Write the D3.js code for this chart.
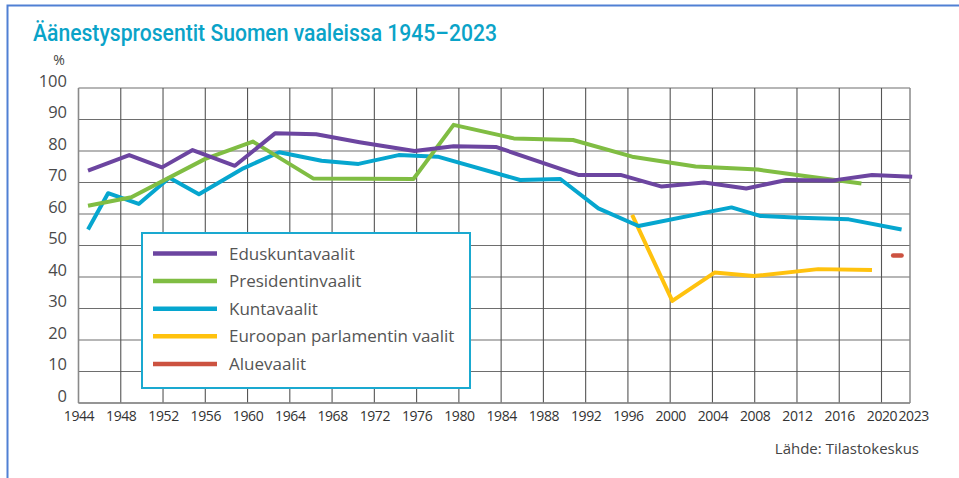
<!DOCTYPE html>
<html>
<head>
<meta charset="utf-8">
<script src="https://cdn.jsdelivr.net/npm/d3@7"></script>
<style>
  html, body { margin: 0; padding: 0; background: #fff; }
  svg { display: block; font-family: "Open Sans", "Noto Sans", sans-serif; }
</style>
</head>
<body>
<svg id="chart" width="959" height="478"></svg>
<script>
// ---- Data (years as positioned in the original chart, turnout %) ----
const titleText = "Äänestysprosentit Suomen vaaleissa 1945–2023";
const sourceText = "Lähde: Tilastokeskus";
const yUnit = "%";

const xTickYears = [1944, 1948, 1952, 1956, 1960, 1964, 1968, 1972, 1976, 1980, 1984, 1988, 1992, 1996, 2000, 2004, 2008, 2012, 2016, 2020, 2023];
const yTickValues = [0, 10, 20, 30, 40, 50, 60, 70, 80, 90, 100];

const seriesNames = ["Eduskuntavaalit", "Presidentinvaalit", "Kuntavaalit", "Euroopan parlamentin vaalit", "Aluevaalit"];
const seriesColors = ["#6c45a0", "#80bd43", "#06a6cf", "#ffc20e", "#cc5240"];

const eduskuntaYears  = [1944.9, 1948.8, 1951.9, 1954.8, 1958.8, 1962.6, 1966.5, 1970.6, 1975.8, 1979.5, 1983.5, 1991.3, 1995.3, 1999.2, 2003.2, 2007.2, 2011.0, 2015.3, 2019.1, 2022.9];
const eduskuntaValues = [73.8, 78.7, 74.8, 80.3, 75.3, 85.6, 85.3, 82.8, 80.0, 81.5, 81.3, 72.4, 72.4, 68.7, 70.0, 68.1, 70.8, 70.6, 72.4, 71.8];

const presidenttiYears  = [1944.9, 1949.0, 1956.0, 1960.5, 1966.2, 1975.7, 1979.5, 1985.2, 1990.8, 1996.4, 2002.4, 2008.3, 2012.2, 2018.1];
const presidenttiValues = [62.6, 65.3, 77.5, 83.0, 71.3, 71.1, 88.3, 84.0, 83.5, 78.2, 75.1, 74.1, 72.3, 69.7];

const kuntaYears  = [1944.9, 1946.8, 1949.7, 1952.6, 1955.4, 1959.6, 1963.0, 1967.0, 1970.5, 1974.3, 1978.0, 1985.8, 1989.6, 1993.2, 1997.0, 2005.8, 2008.5, 2012.3, 2016.9, 2021.9];
const kuntaValues = [55.1, 66.6, 63.2, 71.5, 66.3, 74.5, 79.6, 76.9, 75.9, 78.7, 78.2, 70.8, 71.1, 61.8, 56.2, 62.1, 59.4, 58.8, 58.3, 55.1];

const euYears  = [1996.4, 2000.2, 2004.2, 2007.9, 2014.0, 2019.1];
const euValues = [59.7, 32.4, 41.4, 40.3, 42.5, 42.2];

const alueYears  = [2021.1, 2021.9];
const alueValues = [46.8, 46.8];

// ---- Layout ----
const svg = d3.select("#chart");
const W = 959, H = 478;
const plotLeft = 78.5, plotRight = 910, plotTop = 88, plotBottom = 403;

const x = d3.scaleLinear().domain([1944, 2023]).range([plotLeft, 913.2]);
const y = d3.scaleLinear().domain([0, 100]).range([plotBottom, plotTop]);

// outer frame (extends past right/bottom edge)
svg.append("rect")
  .attr("x", 7.5).attr("y", 5.5)
  .attr("width", W + 20).attr("height", H + 20)
  .attr("fill", "none").attr("stroke", "#5080d4").attr("stroke-width", 2);

// title
svg.append("text")
  .attr("x", 33).attr("y", 41)
  .attr("fill", "#0aa3c8")
  .attr("font-family", "Roboto, 'Open Sans', sans-serif")
  .attr("font-size", 23.5)
  .attr("font-weight", 500)
  .attr("textLength", 464)
  .attr("lengthAdjust", "spacingAndGlyphs")
  .text(titleText);

// gridlines
const grid = svg.append("g");
grid.selectAll("line.h").data(yTickValues).join("line")
  .attr("x1", plotLeft).attr("x2", plotRight)
  .attr("y1", d => y(d)).attr("y2", d => y(d))
  .attr("stroke", "#6e6e6e").attr("stroke-width", 1.2);
grid.selectAll("line.v").data(xTickYears.filter(d => d !== 2023)).join("line")
  .attr("x1", d => x(d)).attr("x2", d => x(d))
  .attr("y1", plotTop).attr("y2", plotBottom)
  .attr("stroke", "#555").attr("stroke-width", 1.1);
// frame edges
grid.append("line")
  .attr("x1", plotRight).attr("x2", plotRight)
  .attr("y1", plotTop).attr("y2", plotBottom)
  .attr("stroke", "#8a8a8a").attr("stroke-width", 1.5);
grid.append("line")
  .attr("x1", plotLeft).attr("x2", plotRight)
  .attr("y1", plotBottom).attr("y2", plotBottom)
  .attr("stroke", "#8a8a8a").attr("stroke-width", 1.5);
grid.append("line")
  .attr("x1", plotLeft).attr("x2", plotLeft)
  .attr("y1", plotTop).attr("y2", plotBottom)
  .attr("stroke", "#8a8a8a").attr("stroke-width", 1.5);

// y axis labels (via d3 axis, offset above gridlines)
const yAxis = d3.axisLeft(y).tickValues(yTickValues).tickSize(0).tickPadding(0);
const yg = svg.append("g").attr("transform", `translate(67, -7)`).call(yAxis);
yg.select(".domain").remove();
yg.selectAll("text").attr("font-size", 16.5).attr("fill", "#4a4a4a")
  .attr("font-family", "'Open Sans', 'Noto Sans', sans-serif");

svg.append("text").attr("x", 59).attr("y", 65).attr("text-anchor", "middle")
  .attr("font-size", 14).attr("fill", "#444").text(yUnit);

// x axis labels
const xAxis = d3.axisBottom(x).tickValues(xTickYears).tickFormat(d3.format("d")).tickSize(0).tickPadding(0);
const xg = svg.append("g").attr("transform", `translate(0, 411)`).call(xAxis);
xg.select(".domain").remove();
xg.selectAll("text").attr("font-size", 14).attr("fill", "#333")
  .attr("letter-spacing", -0.4)
  .attr("font-family", "'Open Sans', 'Noto Sans', sans-serif");

// lines
const line = d3.line().x(d => x(d[0])).y(d => y(d[1]));
const series = [
  [eduskuntaYears, eduskuntaValues],
  [presidenttiYears, presidenttiValues],
  [kuntaYears, kuntaValues],
  [euYears, euValues],
  [alueYears, alueValues]
];
// draw order: yellow, red, cyan, green, purple (purple on top)
const order = [3, 4, 2, 1, 0];
order.forEach(i => {
  const pts = series[i][0].map((yr, k) => [yr, series[i][1][k]]);
  svg.append("path")
    .attr("d", line(pts))
    .attr("fill", "none")
    .attr("stroke", seriesColors[i])
    .attr("stroke-width", i === 4 ? 4.5 : 4)
    .attr("stroke-linejoin", "round")
    .attr("stroke-linecap", i === 4 ? "round" : "butt");
});

// legend
const lg = svg.append("g");
lg.append("rect")
  .attr("x", 142).attr("y", 233).attr("width", 328).attr("height", 155)
  .attr("fill", "#fff").attr("stroke", "#1aa9d0").attr("stroke-width", 2);
seriesNames.forEach((name, i) => {
  const cy = 253.5 + i * 27.6;
  lg.append("line")
    .attr("x1", 153).attr("x2", 217).attr("y1", cy).attr("y2", cy)
    .attr("stroke", seriesColors[i]).attr("stroke-width", 4.5);
  lg.append("text")
    .attr("x", 229).attr("y", cy + 6)
    .attr("font-size", 17).attr("fill", "#555")
    .text(name);
});

// source
svg.append("text")
  .attr("x", 919).attr("y", 454).attr("text-anchor", "end")
  .attr("font-size", 15).attr("fill", "#444")
  .text(sourceText);
</script>
</body>
</html>
